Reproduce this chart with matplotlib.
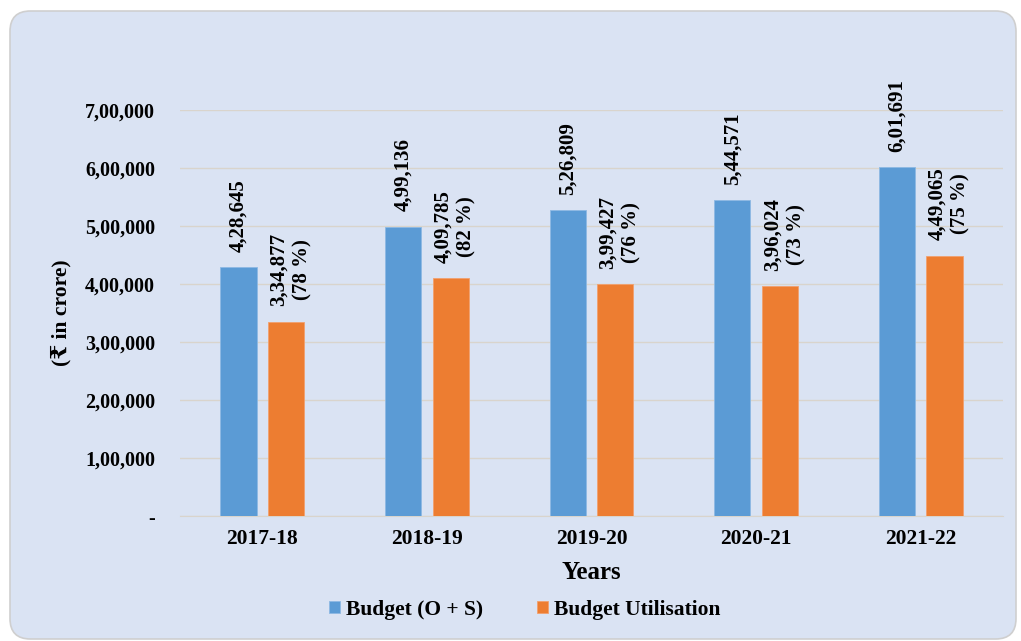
import matplotlib.pyplot as plt
import numpy as np
from matplotlib.patches import FancyBboxPatch
from matplotlib.ticker import FixedLocator, FuncFormatter

# data

years = ['2017-18', '2018-19', '2019-20', '2020-21', '2021-22']
budget = [428645, 499136, 526809, 544571, 601691]
utilisation = [334877, 409785, 399427, 396024, 449065]
util_pct = [78, 82, 76, 73, 75]

blue = '#5B9BD5'
orange = '#ED7D31'
panel_bg = '#DAE3F3'

plt.rcParams['font.family'] = ['Liberation Serif', 'DejaVu Serif', 'DejaVu Sans']
plt.rcParams['font.weight'] = 'bold'


def indian_fmt(v, pos=None):
    if v == 0:
        return '-'
    s = str(int(round(v)))
    if len(s) <= 3:
        return s
    head, tail = s[:-3], s[-3:]
    parts = []
    while len(head) > 2:
        parts.insert(0, head[-2:])
        head = head[:-2]
    if head:
        parts.insert(0, head)
    return ','.join(parts) + ',' + tail


fig = plt.figure(figsize=(10.21, 6.41), dpi=100)
fig.patch.set_facecolor('white')

# rounded background panel
panel = FancyBboxPatch((10 / 1021, 2 / 641), 1006 / 1021, 628 / 641,
                       boxstyle='round,pad=0,rounding_size=0.02',
                       transform=fig.transFigure, facecolor=panel_bg,
                       edgecolor='#CFCFCF', lw=1.2, zorder=-10,
                       mutation_aspect=1021 / 641)
fig.patches.append(panel)

ax = fig.add_axes([180 / 1021, 1 - 516 / 641, 823 / 1021, 406 / 641])
ax.set_facecolor('none')

x = np.arange(len(years))
w = 0.22
off = 0.145

bars1 = ax.bar(x - off, budget, w, color=blue, edgecolor='#8DB9E3', lw=0.6,
               label='Budget (O + S)', zorder=3)
bars2 = ax.bar(x + off, utilisation, w, color=orange, edgecolor='#F2A06E', lw=0.6,
               label='Budget Utilisation', zorder=3)

for xi, v in zip(x, budget):
    ax.annotate(indian_fmt(v), (xi - off, v), xytext=(0, 11), textcoords='offset points',
                rotation=90, ha='center', va='bottom', fontsize=15, fontweight='bold')
for xi, v, p in zip(x, utilisation, util_pct):
    ax.annotate(f'{indian_fmt(v)}\n({p} %)', (xi + off, v), xytext=(3, 11),
                textcoords='offset points', rotation=90, ha='center', va='bottom',
                fontsize=15, fontweight='bold', linespacing=1.25)

ax.set_xlim(-0.5, len(years) - 0.5)
ax.set_ylim(0, 700000)
ax.yaxis.set_major_locator(FixedLocator(np.arange(0, 700001, 100000)))
ax.yaxis.set_major_formatter(FuncFormatter(indian_fmt))
ax.set_xticks(x)
ax.set_xticklabels(years)

ax.grid(axis='y', color='#D9D4CC', lw=1.0, zorder=0)
for s in ['top', 'right', 'left']:
    ax.spines[s].set_visible(False)
ax.spines['bottom'].set_color('#D9D4CC')
ax.tick_params(axis='y', length=0, labelsize=14.5, pad=18)
ax.tick_params(axis='x', length=0, labelsize=15.5, pad=9)

ax.set_xlabel('Years', fontsize=18, fontweight='bold', labelpad=9)
ax.set_ylabel('(₹ in crore)', fontsize=15.5, fontweight='bold', labelpad=10)

fig.legend(handles=[bars1, bars2], loc='center', bbox_to_anchor=(525 / 1021, 1 - 610 / 641),
           ncol=2, frameon=False, fontsize=15.5, handlelength=0.5, handleheight=0.5,
           handletextpad=0.3, columnspacing=2.5)

fig.savefig('out.png', dpi=100)
